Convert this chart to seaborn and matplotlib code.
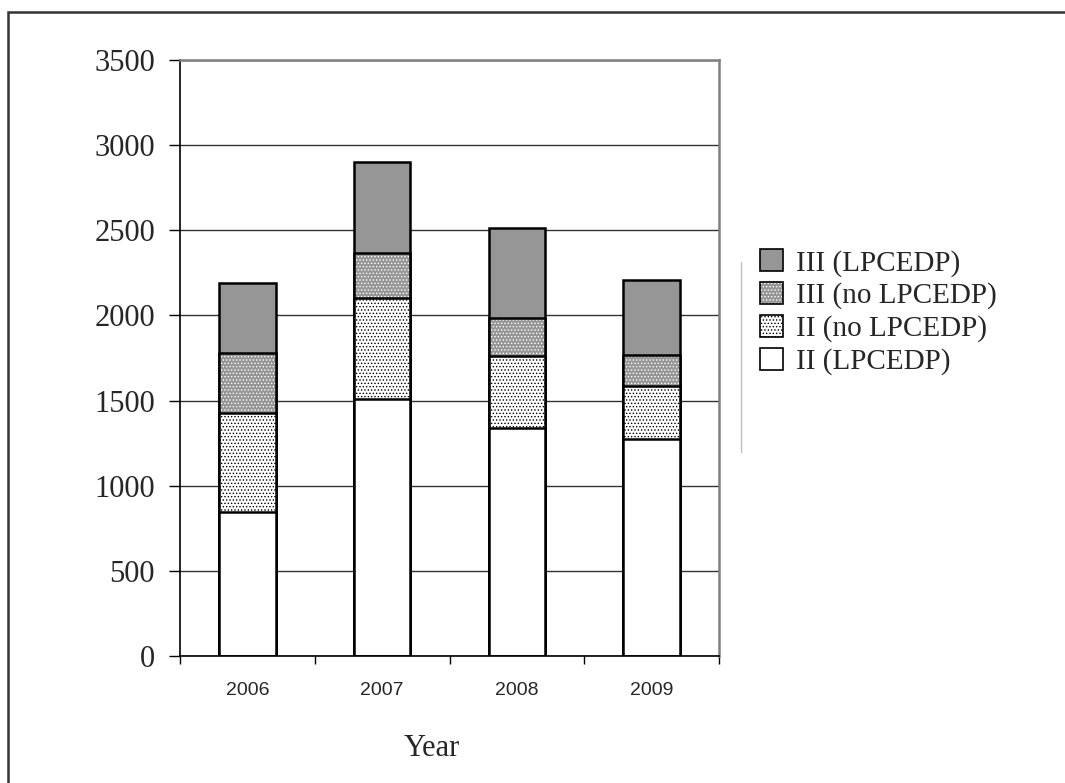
import matplotlib
matplotlib.use("Agg")
import matplotlib.pyplot as plt
import seaborn as sns
import pandas as pd
import numpy as np
from matplotlib.patches import Patch, Rectangle
from matplotlib.lines import Line2D

# ---- data ----
years = ["2006", "2007", "2008", "2009"]
ii_lpcedp = [845, 1507, 1339, 1272]
ii_no_lpcedp = [580, 597, 424, 315]
iii_no_lpcedp = [355, 261, 224, 179]
iii_lpcedp = [410, 538, 528, 444]
series_labels = ["III (LPCEDP)", "III (no LPCEDP)", "II (no LPCEDP)", "II (LPCEDP)"]
y_ticks = [0, 500, 1000, 1500, 2000, 2500, 3000, 3500]
x_label = "Year"

sns.set_theme(style="ticks")
plt.rcParams['font.family'] = ['Liberation Serif', 'DejaVu Serif']
plt.rcParams['hatch.linewidth'] = 0.6

W, H = 1065, 783
fig = plt.figure(figsize=(W / 100, H / 100), dpi=100)
ax = fig.add_axes([180 / W, 1 - 656 / H, (719 - 180) / W, (656 - 60) / H])

df = pd.DataFrame({"year": years})
df["c1"] = np.array(ii_lpcedp)
df["c2"] = df["c1"] + np.array(ii_no_lpcedp)
df["c3"] = df["c2"] + np.array(iii_no_lpcedp)
df["c4"] = df["c3"] + np.array(iii_lpcedp)

GREY = "#969696"
bw = 0.42
lw = 1.8

# top layer: III (LPCEDP)
sns.barplot(data=df, x="year", y="c4", color=GREY, saturation=1, width=bw,
            edgecolor="black", linewidth=lw, errorbar=None, ax=ax)
# III (no LPCEDP): grey with white dots
n_before = len(ax.patches)
sns.barplot(data=df, x="year", y="c3", color=GREY, saturation=1, width=bw,
            edgecolor="black", linewidth=lw, hatch=".....", errorbar=None, ax=ax)
for p in ax.patches[n_before:]:
    p._hatch_color = (1, 1, 1, 1)
    p.stale = True
# II (no LPCEDP): white with black dots
sns.barplot(data=df, x="year", y="c2", color="white", saturation=1, width=bw,
            edgecolor="black", linewidth=lw, hatch=".....", errorbar=None, ax=ax)
# II (LPCEDP): white
sns.barplot(data=df, x="year", y="c1", color="white", saturation=1, width=bw,
            edgecolor="black", linewidth=lw, errorbar=None, ax=ax)

ax.set_ylim(0, 3500)
ax.set_xlim(-0.5, 3.5)
ax.set_yticks(y_ticks)
ax.set_yticklabels([str(v) for v in y_ticks])
ax.tick_params(axis='y', direction='out', length=8, width=1, color='black',
               labelsize=22, pad=10, left=True)
ax.set_xticks(range(len(years)))
ax.set_xticklabels(years, fontfamily=['Liberation Sans', 'DejaVu Sans'], fontsize=14)
ax.tick_params(axis='x', which='major', length=0, pad=19)
ax.set_xticks(np.arange(-0.5, len(years), 1.0), minor=True)
ax.tick_params(axis='x', which='minor', direction='out', length=6, width=1,
               color='black', bottom=True)
ax.set_xlabel("")
ax.set_ylabel("")

ax.set_axisbelow(True)
ax.yaxis.grid(True, color="#333333", linewidth=1)
for s in ["left", "bottom"]:
    ax.spines[s].set_color("black")
    ax.spines[s].set_linewidth(1.2)
for s in ["top", "right"]:
    ax.spines[s].set_visible(True)
    ax.spines[s].set_color("#808080")
    ax.spines[s].set_linewidth(1.8)

fig.text(432 / W, 1 - 748 / H, x_label, ha="center", va="center", fontsize=22)

# legend
h_iii = Patch(facecolor=GREY, edgecolor="black", linewidth=1.2)
h_iii_no = Patch(facecolor=GREY, edgecolor="black", linewidth=1.2, hatch=".....")
h_iii_no._hatch_color = (1, 1, 1, 1)
h_ii_no = Patch(facecolor="white", edgecolor="black", linewidth=1.2, hatch=".....")
h_ii = Patch(facecolor="white", edgecolor="black", linewidth=1.2)
leg = fig.legend([h_iii, h_iii_no, h_ii_no, h_ii], series_labels,
                 loc="upper left", bbox_to_anchor=(760 / W, 1 - 249 / H),
                 frameon=False, fontsize=21, borderpad=0, borderaxespad=0,
                 handlelength=0.8, handleheight=0.8, handletextpad=0.45,
                 labelspacing=0.18)

fig.add_artist(Line2D([741 / W, 741 / W], [1 - 262 / H, 1 - 452 / H],
                      transform=fig.transFigure, color="#c0c0c0", linewidth=1))
fig.patches.append(Rectangle((8 / W, -0.1), 1.2, 1 - 12 / H + 0.1,
                             transform=fig.transFigure, fill=False,
                             edgecolor="#333333", linewidth=1.8))

fig.savefig("out.png", dpi=100)
